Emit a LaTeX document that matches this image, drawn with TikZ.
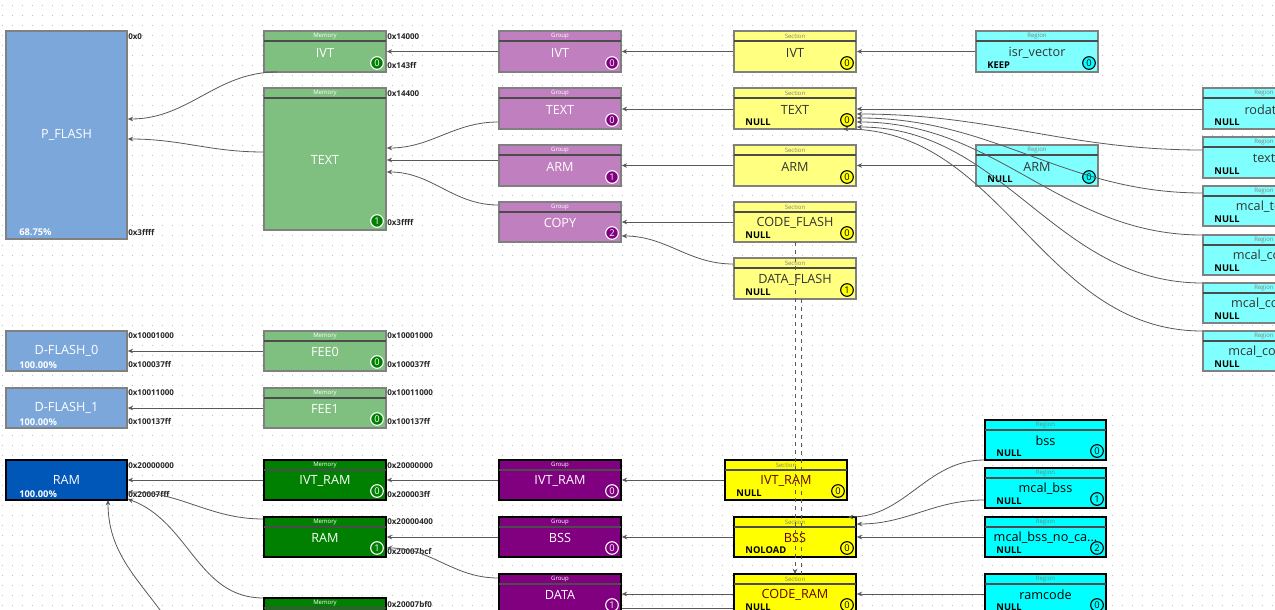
\documentclass[tikz,border=0pt]{standalone}
\usepackage{fontspec}
\setmainfont{Open Sans}
\usetikzlibrary{arrows.meta}
\definecolor{memL}{HTML}{7FBF7F}\definecolor{memD}{HTML}{008000}
\definecolor{grpL}{HTML}{C080C0}\definecolor{grpD}{HTML}{800080}
\definecolor{secL}{HTML}{FFFF80}\definecolor{secD}{HTML}{FFFF00}
\definecolor{regL}{HTML}{80FFFF}\definecolor{regD}{HTML}{00FFFF}
\definecolor{baseL}{HTML}{7BA7DB}\definecolor{baseD}{HTML}{0057B8}
\tikzset{
 x=0.75pt,y=-0.75pt,
 box/.style={draw,line width=1.2pt,inner sep=0pt},
 mem/.style={box,fill=memL,draw=gray},memD/.style={box,fill=memD,draw=black},
 grp/.style={box,fill=grpL,draw=gray},grpD/.style={box,fill=grpD,draw=black},
 sec/.style={box,fill=secL,draw=gray},secD/.style={box,fill=secD,draw=black},
 reg/.style={box,fill=regL,draw=gray},regD/.style={box,fill=regD,draw=black},
 base/.style={box,fill=baseL,draw=gray},baseD/.style={box,fill=baseD,draw=black},
 memT/.style={text=white},memDT/.style={text=white},grpT/.style={text=white},grpDT/.style={text=white},
 secT/.style={text=black!80},secDT/.style={text=red!40!black},regT/.style={text=black!80},regDT/.style={text=black},
 memH/.style={text=white},memDH/.style={text=white},grpH/.style={text=white},grpDH/.style={text=white},
 secH/.style={text=gray},secDH/.style={text=gray},regH/.style={text=gray},regDH/.style={text=gray},
 memB/.style={fill=memD,draw=white,text=white},memDB/.style={draw=white,text=white},
 grpB/.style={fill=grpD,draw=white,text=white},grpDB/.style={draw=white,text=white},
 secB/.style={fill=secD,draw=black,text=black},secDB/.style={draw=black,text=black},
 regB/.style={fill=regD,draw=black,text=black},regDB/.style={draw=black,text=black},
 badge/.style={circle,line width=0.8pt,inner sep=0pt,minimum size=9.5pt,font=\fontsize{7}{7}\selectfont},
 addr/.style={anchor=west,inner sep=0pt,font=\fontsize{6}{7}\selectfont\bfseries,text=black!85},
 flag/.style={anchor=west,inner sep=0pt,font=\fontsize{7}{7}\selectfont\bfseries},
 ln/.style={draw=black!65,line width=0.6pt,-{Stealth[length=4pt,width=3.5pt]}},
}
\newcommand\blk[9]{%
 \node[#2,minimum width={(#5-#3)*0.75pt},minimum height={(#6-#4)*0.75pt}] (#1) at ({(#3+#5)/2},{(#4+#6)/2}) {};
 \draw[line width=0.8pt,black!70] (#3,#4+10) -- (#5,#4+10);
 \node[#2H,font=\fontsize{4.5}{5}\selectfont,inner sep=0pt] at ({(#3+#5)/2},#4+5) {#7};
 \node[#2T,font=\fontsize{9.5}{10}\selectfont,inner sep=0pt] at ({(#3+#5)/2},{(#4+10+#6)/2-4}) {#8};
 \node[badge,#2B] at (#5-9,#6-9) {#9};}
\newcommand\flg[2]{\node[flag] at ([xshift=9pt,yshift=5.5pt]#1.south west) {#2};}
\newcommand\bas[7]{%
 \node[#2,minimum width={(#5-#3)*0.75pt},minimum height={(#6-#4)*0.75pt}] (#1) at ({(#3+#5)/2},{(#4+#6)/2}) {};
 \node[text=white,font=\fontsize{9.5}{10}\selectfont] at (#1.center) {#7};}
\begin{document}
\begin{tikzpicture}
\useasboundingbox (0,0) rectangle (1275,610);
\clip (0,0) rectangle (1275,610);
\fill[white] (0,0) rectangle (1275,610);
\foreach \y in {5,15,...,605} \draw[black!25,line width=0.6pt,dash pattern=on 0.6pt off 6.9pt] (2,\y)--(1275,\y);
% base blocks
\bas{pf}{base}{6}{31}{127}{239}{P\_FLASH}
\node[flag,text=white] at (19,232) {68.75\%};
\bas{df0}{base}{6}{331}{127}{371}{D-FLASH\_0}
\node[flag,text=white] at (19,365) {100.00\%};
\bas{df1}{base}{6}{388}{127}{428}{D-FLASH\_1}
\node[flag,text=white] at (19,422) {100.00\%};
\node[baseD,minimum width={121*0.75pt},minimum height={40*0.75pt}] (ram) at (66.5,480) {};
\node[text=white,font=\fontsize{9.5}{10}\selectfont] at (66.5,480) {RAM};
\node[flag,text=white] at (19,494) {100.00\%};
% memory
\blk{mivt}{mem}{264}{31}{386}{72}{Memory}{IVT}{0}
\blk{mtext}{mem}{264}{88}{386}{230}{Memory}{TEXT}{1}
\blk{fee0}{mem}{264}{331}{386}{371}{Memory}{FEE0}{0}
\blk{fee1}{mem}{264}{388}{386}{428}{Memory}{FEE1}{0}
\blk{mivtram}{memD}{264}{460}{386}{500}{Memory}{IVT\_RAM}{0}
\blk{mram}{memD}{264}{517}{386}{557}{Memory}{RAM}{1}
\blk{mlast}{memD}{264}{598}{386}{640}{Memory}{}{}
% groups
\blk{givt}{grp}{499}{31}{621}{72}{Group}{IVT}{0}
\blk{gtext}{grp}{499}{88}{621}{129}{Group}{TEXT}{0}
\blk{garm}{grp}{499}{145}{621}{186}{Group}{ARM}{1}
\blk{gcopy}{grp}{499}{202}{621}{242}{Group}{COPY}{2}
\blk{givtram}{grpD}{499}{460}{621}{500}{Group}{IVT\_RAM}{0}
\blk{gbss}{grpD}{499}{517}{621}{557}{Group}{BSS}{0}
\blk{gdata}{grpD}{499}{574}{621}{614}{Group}{DATA}{1}
% sections
\blk{sivt}{sec}{734}{31}{856}{72}{Section}{IVT}{0}
\blk{stext}{sec}{734}{88}{856}{129}{Section}{TEXT}{0}\flg{stext}{NULL}
\blk{sarm}{sec}{734}{145}{856}{186}{Section}{ARM}{0}
\blk{scf}{sec}{734}{202}{856}{242}{Section}{CODE\_FLASH}{0}\flg{scf}{NULL}
\blk{sdf}{sec}{734}{258}{856}{299}{Section}{DATA\_FLASH}{1}\flg{sdf}{NULL}
\blk{sivtram}{secD}{725}{460}{847}{500}{Section}{IVT\_RAM}{0}\flg{sivtram}{NULL}
\blk{sbss}{secD}{734}{517}{856}{557}{Section}{BSS}{0}\flg{sbss}{NOLOAD}
\blk{scr}{secD}{734}{574}{856}{614}{Section}{CODE\_RAM}{0}\flg{scr}{NULL}
% regions
\blk{risr}{reg}{976}{31}{1098}{72}{Region}{isr\_vector}{0}\flg{risr}{KEEP}
\blk{rarm}{reg}{976}{145}{1098}{186}{Region}{ARM}{0}\flg{rarm}{NULL}
\blk{rro}{reg}{1203}{88}{1325}{129}{Region}{rodata}{0}\flg{rro}{NULL}
\blk{rtx}{reg}{1203}{137}{1325}{178}{Region}{text}{1}\flg{rtx}{NULL}
\blk{rmt}{reg}{1203}{186}{1325}{226}{Region}{mcal\_text}{2}\flg{rmt}{NULL}
\blk{rmc}{reg}{1203}{235}{1325}{275}{Region}{mcal\_code}{3}\flg{rmc}{NULL}
\blk{rmk}{reg}{1203}{283}{1325}{323}{Region}{mcal\_const}{4}\flg{rmk}{NULL}
\blk{rmk2}{reg}{1203}{331}{1325}{371}{Region}{mcal\_const\_}{5}\flg{rmk2}{NULL}
\blk{rbss}{regD}{985}{420}{1106}{460}{Region}{bss}{0}\flg{rbss}{NULL}
\blk{rmb}{regD}{985}{468}{1106}{508}{Region}{mcal\_bss}{1}\flg{rmb}{NULL}
\blk{rmbn}{regD}{985}{517}{1106}{557}{Region}{mcal\_bss\_no\_ca...}{2}\flg{rmbn}{NULL}
\blk{rrc}{regD}{985}{574}{1106}{614}{Region}{ramcode}{0}\flg{rrc}{NULL}
% addresses
\node[addr] at (128,37) {0x0};\node[addr] at (128,232) {0x3ffff};
\node[addr] at (387,37) {0x14000};\node[addr] at (387,65) {0x143ff};
\node[addr] at (387,94) {0x14400};\node[addr] at (387,222) {0x3ffff};
\foreach \x in {128,387}{\node[addr] at (\x,336) {0x10001000};\node[addr] at (\x,364) {0x100037ff};
 \node[addr] at (\x,393) {0x10011000};\node[addr] at (\x,421) {0x100137ff};
 \node[addr] at (\x,466) {0x20000000};}
\node[addr] at (128,494) {0x20007fff};\node[addr] at (387,494) {0x200003ff};
\node[addr] at (387,522) {0x20000400};\node[addr] at (387,551) {0x20007bcf};
\node[addr] at (387,604) {0x20007bf0};
% connectors top
\path[ln] (risr.west) -- (sivt.east);
\path[ln] (sivt.west) -- (givt.east);
\path[ln] (givt.west) -- (mivt.east |- givt.west);
\path[ln] (277,72) to[out=180,in=0] (pf.east |- 0,119);
\path[ln] (mtext.west |- 0,152) to[out=180,in=0] (pf.east |- 0,139);
\path[ln] (stext.west |- 0,109) -- (gtext.east |- 0,109);
\path[ln] (sarm.west) -- (garm.east);
\path[ln] (rarm.west) -- (sarm.east);
\path[ln] (gtext.west |- 0,122) to[out=180,in=0] (mtext.east |- 0,148);
\path[ln] (garm.west |- 0,160) -- (mtext.east |- 0,160);
\path[ln] (gcopy.west |- 0,205) to[out=180,in=0] (mtext.east |- 0,172);
\path[ln] (scf.west) -- (gcopy.east |- scf.west);
\path[ln] (sdf.west |- 0,264) to[out=180,in=0] (gcopy.east |- 0,236);
\path[ln] (rro.west |- 0,109) -- (stext.east |- 0,109);
\path[ln] (rtx.west |- 0,150) to[out=180,in=0] (stext.east |- 0,114);
\path[ln] (rmt.west |- 0,193) to[out=180,in=0] (stext.east |- 0,118);
\path[ln] (rmc.west |- 0,235) to[out=180,in=0] (stext.east |- 0,122);
\path[ln] (rmk.west |- 0,283) to[out=180,in=0] (stext.east |- 0,127);
\path[ln] (rmk2.west |- 0,331) to[out=180,in=0] (843,129);
\path[ln] (fee0.west) -- (df0.east);
\path[ln] (fee1.west) -- (df1.east);
% dashed
\coordinate (d1) at (795,242);\coordinate (d2) at (801,299);
\path[ln,dashed] (d1) -- (795,574);
\draw[black!65,line width=0.6pt,dashed] (d2) -- (801,574);
% connectors bottom
\path[ln] (sivtram.west) -- (givtram.east);
\path[ln] (givtram.west) -- (mivtram.east);
\path[ln] (mivtram.west) -- (ram.east);
\path[ln] (sbss.west) -- (gbss.east);
\path[ln] (gbss.west) -- (mram.east);
\path[ln] (scr.west |- 0,594) -- (gdata.east |- 0,594);
\draw[black!65,line width=0.6pt] (scr.west |- 0,608) -- (gdata.east |- 0,608);
\path[ln] (gdata.west |- 0,578) to[out=180,in=0] (mram.east |- 0,548);
\path[ln] (mram.west |- 0,519) to[out=180,in=0] (ram.east |- 0,492);
\path[ln] (mlast.west |- 0,598) to[out=180,in=-20] (ram.east |- 0,499);
\path[ln] (180,640) to[out=120,in=-90] (108,500);
\path[ln] (rbss.west |- 0,460) to[out=180,in=0] (848,517);
\path[ln] (rmb.west |- 0,500) to[out=180,in=0] (sbss.east |- 0,524);
\path[ln] (rmbn.west |- 0,537) -- (sbss.east |- 0,537);
\path[ln] (rrc.west |- 0,594) -- (scr.east |- 0,594);
\end{tikzpicture}
\end{document}
